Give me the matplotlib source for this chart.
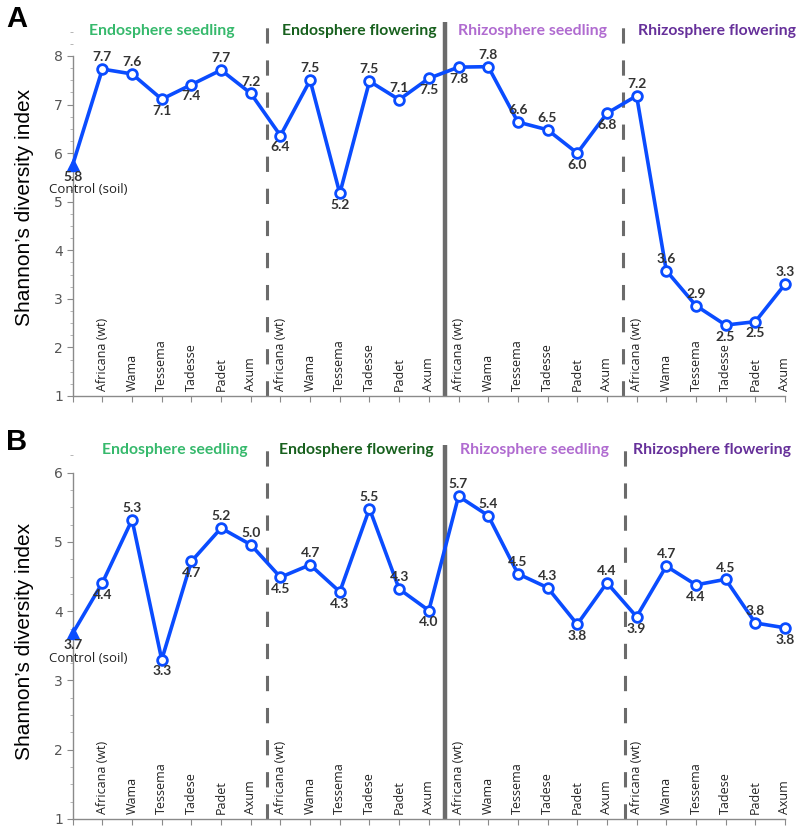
import numpy as np
import matplotlib.pyplot as plt
from matplotlib import transforms
from matplotlib.ticker import MultipleLocator

# cultivar names (B uses the spelling "Tadese")
cultivars_a = ["Africana (wt)", "Wama", "Tessema", "Tadesse", "Padet", "Axum"]
cultivars_b = ["Africana (wt)", "Wama", "Tessema", "Tadese", "Padet", "Axum"]
groups = ["Endosphere seedling", "Endosphere flowering",
          "Rhizosphere seedling", "Rhizosphere flowering"]
group_colors = ["#36b96c", "#17601d", "#b06bd0", "#66309a"]

# panel A
control_a = 5.76
endo_seed_a = [7.73, 7.63, 7.11, 7.41, 7.71, 7.23]
endo_flow_a = [6.36, 7.50, 5.17, 7.48, 7.10, 7.54]
rhizo_seed_a = [7.77, 7.78, 6.64, 6.48, 6.00, 6.82]
rhizo_flow_a = [7.18, 3.58, 2.86, 2.46, 2.53, 3.30]

# panel B
control_b = 3.68
endo_seed_b = [4.41, 5.32, 3.30, 4.72, 5.20, 4.96]
endo_flow_b = [4.49, 4.67, 4.28, 5.48, 4.32, 4.01]
rhizo_seed_b = [5.66, 5.38, 4.54, 4.34, 3.81, 4.41]
rhizo_flow_b = [3.92, 4.65, 4.38, 4.46, 3.83, 3.76]

# label above (a) or below (b) each point, control first
sides_a = "b" + "aabbaa" + "babaab" + "baaabb" + "aaabba"
sides_b = "b" + "babbaa" + "babaab" + "aaaaba" + "babaab"

blue = "#0a4cff"
grey = "#6b6b6b"

fig = plt.figure(figsize=(7.98, 8.26), dpi=100)


def panel(rect, control, series, names, sides, ytop, ymax, divs, title_x, title_y, letter, ylab_y):
    ax = fig.add_axes(rect)
    y = [control] + [v for s in series for v in s]
    x = np.arange(len(y))

    # group dividers
    for d, solid in zip(divs, [False, True, False]):
        if solid:
            ax.plot([d, d], [1, ymax], color=grey, lw=3.2, zorder=1)
        else:
            ax.plot([d, d], [1, ymax], color=grey, lw=2.2, ls=(0, (5, 5.5)), zorder=1)

    ax.plot(x, y, color=blue, lw=2.6, zorder=3, clip_on=False)
    ax.plot(x[1:], y[1:], "o", ms=7, mfc="white", mec=blue, mew=2, zorder=4, clip_on=False)
    ax.plot(x[0], y[0], "^", ms=9, color=blue, zorder=4, clip_on=False)

    for xi, yi, s in zip(x, y, sides):
        off = 8.5 if s == "a" else -8.5
        ax.annotate(f"{yi:.1f}", (xi, yi), xytext=(0, off), textcoords="offset points",
                    ha="center", va="center", fontsize=10, fontweight="bold",
                    color="#333333", family="Lato", zorder=5)
    ax.annotate("Control (soil)", (0, control), xytext=(11, -18), textcoords="offset points",
                ha="center", va="center", fontsize=9.5, color="#222222", family="Open Sans")

    # cultivar names standing inside the plot
    tr = transforms.offset_copy(ax.get_xaxis_transform(), fig=fig, y=5, units="dots")
    for i, nm in enumerate(names * 4):
        ax.text(i + 1, 0, nm, transform=tr, rotation=90, ha="center", va="bottom",
                fontsize=9, color="#222222", family="Open Sans")

    for gx, g, c in zip(title_x, groups, group_colors):
        ax.text(gx, title_y, g, ha="center", va="center", fontsize=11.3,
                fontweight="bold", color=c, family="Lato", clip_on=False)

    ax.set_xlim(0, 24)
    ax.set_ylim(1, ymax)
    ax.set_xticks(np.arange(25))
    ax.set_xticklabels([])
    ax.set_yticks(np.arange(1, ytop + 1))
    ax.yaxis.set_minor_locator(MultipleLocator(0.25))
    ax.spines["top"].set_visible(False)
    ax.spines["right"].set_visible(False)
    ax.spines["left"].set_bounds(1, ytop)
    for sp in ["left", "bottom"]:
        ax.spines[sp].set_color("#8a8a8a")
        ax.spines[sp].set_linewidth(1)
    ax.tick_params(axis="x", length=4, color="#8a8a8a")
    ax.tick_params(axis="y", length=4, color="#8a8a8a", labelsize=10, labelcolor="#555555", pad=3)
    ax.tick_params(axis="y", which="minor", length=2, color="#aaaaaa")
    for lab in ax.get_yticklabels():
        lab.set_verticalalignment("center_baseline")
    ax.set_ylabel("Shannon’s diversity index", fontsize=15, family="Liberation Sans")
    ax.yaxis.set_label_coords(-0.055, ylab_y)
    fig.text(0.008, rect[1] + rect[3] + 0.004, letter, fontsize=21, fontweight="bold",
             family="Liberation Sans", va="center")
    return ax


panel([0.0911, 0.5206, 0.8926, 0.4528], control_a,
      [endo_seed_a, endo_flow_a, rhizo_seed_a, rhizo_flow_a], cultivars_a, sides_a,
      8, 8.7, [6.55, 12.53, 18.53], [3.0, 9.65, 15.5, 21.7], 8.51, "A", 0.505)
panel([0.0911, 0.0085, 0.8926, 0.4528], control_b,
      [endo_seed_b, endo_flow_b, rhizo_seed_b, rhizo_flow_b], cultivars_b, sides_b,
      6, 6.4, [6.55, 12.55, 18.62], [3.45, 9.55, 15.55, 21.55], 6.33, "B", 0.475)

fig.savefig("out.png", dpi=100)
